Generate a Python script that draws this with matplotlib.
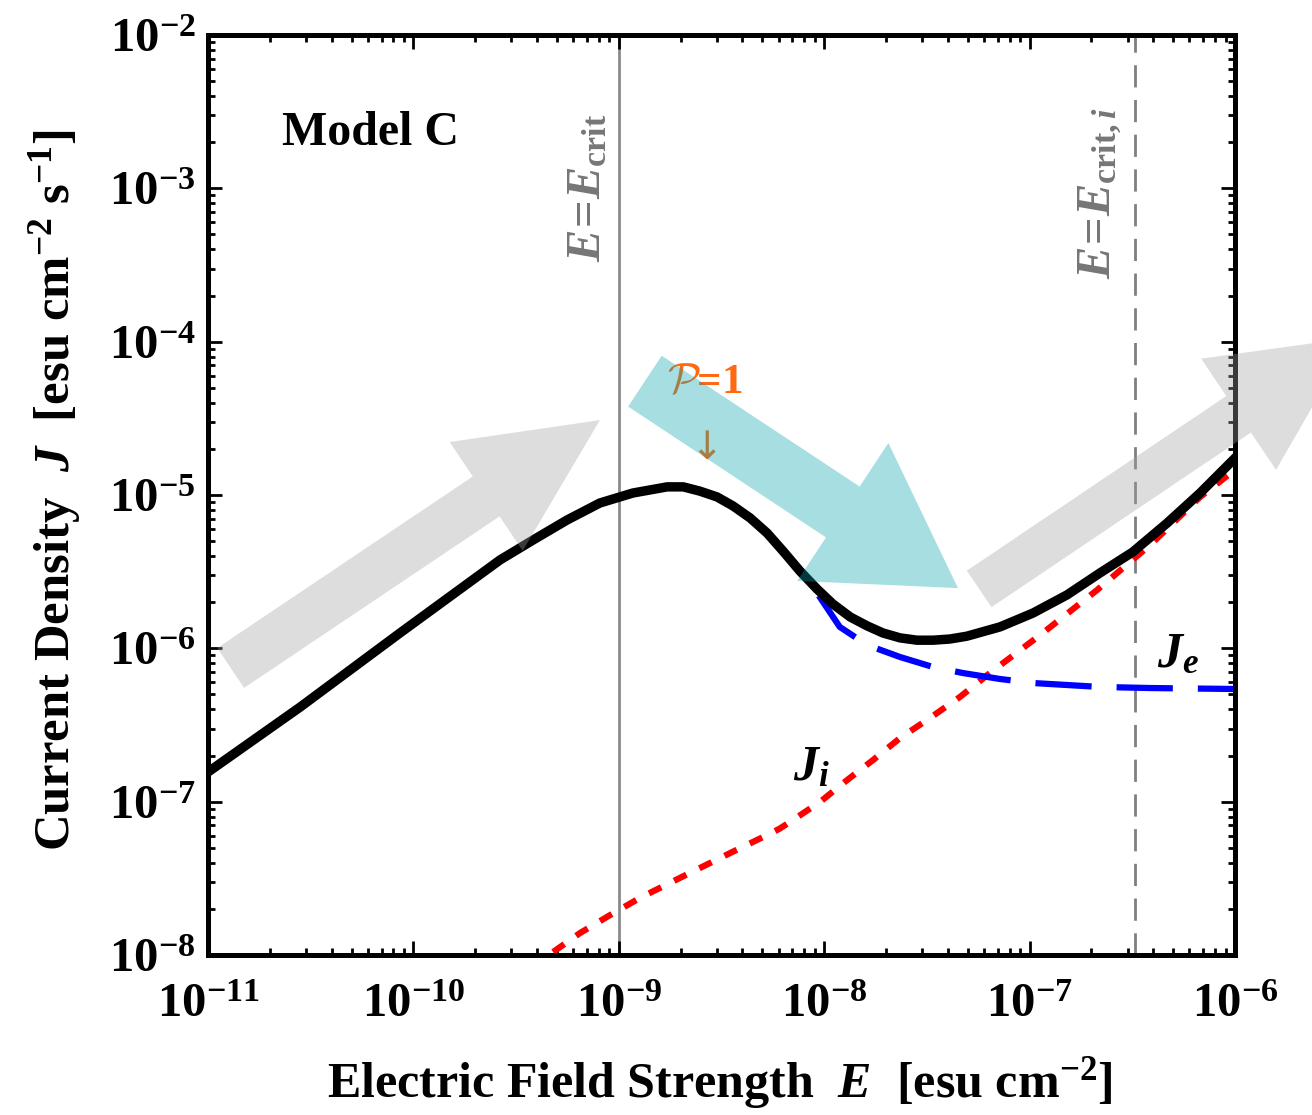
import matplotlib
matplotlib.use('Agg')
import matplotlib.pyplot as plt

plt.rcParams.update({
    'font.family': ['Liberation Serif', 'DejaVu Serif'],
    'font.weight': 'bold',
    'mathtext.fontset': 'custom',
    'mathtext.rm': 'Liberation Serif:bold',
    'mathtext.it': 'Liberation Serif:italic:bold',
    'mathtext.bf': 'Liberation Serif:bold',
})

# ---- data (E in esu cm^-2, J in esu cm^-2 s^-1) ----
E_tot = [1.00e-11, 2.81e-11, 8.61e-11, 2.64e-10, 3.82e-10, 5.60e-10, 8.09e-10,
         1.17e-9, 1.72e-9, 2.06e-9, 2.48e-9, 3.01e-9, 3.60e-9, 4.36e-9, 5.27e-9,
         6.30e-9, 7.62e-9, 9.22e-9, 1.10e-8, 1.34e-8, 1.62e-8, 1.93e-8, 2.34e-8,
         2.83e-8, 3.39e-8, 4.09e-8, 4.95e-8, 7.18e-8, 1.04e-7, 1.52e-7, 2.20e-7,
         3.18e-7, 4.67e-7, 6.76e-7, 1.00e-6]
J_tot = [1.56e-7, 4.14e-7, 1.26e-6, 3.77e-6, 5.08e-6, 6.87e-6, 8.87e-6,
         1.03e-5, 1.13e-5, 1.13e-5, 1.06e-5, 9.71e-6, 8.48e-6, 7.08e-6, 5.65e-6,
         4.31e-6, 3.19e-6, 2.44e-6, 1.95e-6, 1.60e-6, 1.40e-6, 1.26e-6, 1.17e-6,
         1.13e-6, 1.13e-6, 1.15e-6, 1.20e-6, 1.38e-6, 1.70e-6, 2.23e-6, 3.10e-6,
         4.25e-6, 6.56e-6, 1.03e-5, 1.74e-5]

E_e = [5.27e-9, 7.62e-9, 9.22e-9, 1.19e-8, 1.62e-8, 2.34e-8, 3.39e-8, 4.74e-8,
       7.18e-8, 1.04e-7, 2.20e-7, 3.86e-7, 1.00e-6]
J_e = [5.65e-6, 3.19e-6, 2.30e-6, 1.38e-6, 1.05e-6, 8.78e-7, 7.55e-7, 6.90e-7,
       6.31e-7, 5.94e-7, 5.60e-7, 5.51e-7, 5.43e-7]

E_i = [3.70e-10, 6.47e-10, 9.06e-10, 1.27e-9, 1.77e-9, 2.48e-9, 3.48e-9, 5.04e-9,
       6.05e-9, 7.05e-9, 8.20e-9, 9.54e-9, 1.29e-8, 1.73e-8, 2.34e-8, 3.27e-8,
       4.58e-8, 6.41e-8, 1.16e-7, 2.13e-7, 3.86e-7, 6.76e-7, 1.00e-6]
J_i = [8.2e-9, 1.39e-8, 1.82e-8, 2.36e-8, 2.95e-8, 3.69e-8, 4.62e-8, 5.88e-8,
       6.65e-8, 7.59e-8, 8.70e-8, 9.95e-8, 1.38e-7, 1.87e-7, 2.60e-7, 3.51e-7,
       4.82e-7, 6.9e-7, 1.26e-6, 2.40e-6, 4.72e-6, 9.7e-6, 1.46e-5]

E_CRIT = 1.0e-9
E_CRIT_I = 3.26e-7

# schematic arrows: (tail, tip) in data coords
ARROW_UP1 = ((1.29e-11, 7.45e-7), (8.09e-10, 3.08e-5))
ARROW_DOWN = ((1.34e-9, 5.53e-5), (4.48e-8, 2.47e-6))
ARROW_UP2 = ((5.68e-8, 2.44e-6), (3.72e-6, 1.06e-4))

FS = 34
GRAY_ARROW = (0.62, 0.63, 0.62, 0.36)
CYAN_ARROW = (0.0, 0.63, 0.68, 0.35)
ORANGE = '#ff6a10'

fig = plt.figure(figsize=(13.12, 11.15), dpi=100)
ax = fig.add_axes([208 / 1312, 1 - 955 / 1115, 1027 / 1312, 920 / 1115])
ax.set_xscale('log')
ax.set_yscale('log')
ax.set_xlim(1e-11, 1e-6)
ax.set_ylim(1e-8, 1e-2)

# reference lines
ax.axvline(E_CRIT, color='#8a8a8a', lw=2.0, zorder=1)
ax.axvline(E_CRIT_I, color='#7f7f7f', lw=2.0, dashes=(8, 4.5), zorder=1)

# curves
ax.plot(E_i, J_i, color='#ff0000', lw=4.5, dashes=(2.2, 2.3), zorder=2)
ax.plot(E_e, J_e, color='#0000ff', lw=4.5, dashes=(9, 4), zorder=2)
ax.plot(E_tot, J_tot, color='black', lw=6.8, solid_joinstyle='round', zorder=3)

# annotations
ax.text(7.1e-10, 1.0e-3, r'$E\!=\!E_{\mathrm{crit}}$', rotation=90, color='#767676',
        fontsize=FS + 1, ha='center', va='center')
ax.text(2.2e-7, 9.3e-4, r'$E\!=\!E_{\mathrm{crit},i}$', rotation=90, color='#767676',
        fontsize=FS + 1, ha='center', va='center')
ax.text(0.158, 0.893, 'Model C', transform=ax.transAxes, fontsize=FS + 0.5,
        ha='center', va='center')
ax.text(5.28e-7, 9.0e-7, r'$J_e$', fontsize=FS + 2, ha='center', va='center')
ax.text(8.7e-9, 1.66e-7, r'$J_i$', fontsize=FS + 2, ha='center', va='center')
ax.text(2.63e-9, 5.37e-5, r'$\mathcal{P}$=1', color=ORANGE, fontsize=FS - 3,
        ha='center', va='center', math_fontfamily='cm', zorder=4)
ax.text(2.66e-9, 2.02e-5, '\u2193', color=ORANGE, fontsize=FS - 6,
        ha='center', va='center', fontweight='normal',
        family=['DejaVu Sans'], zorder=4)

def big_arrow(tail, tip, color, tw, hw, hl):
    ax.annotate('', xy=tip, xytext=tail, annotation_clip=False, zorder=6,
                arrowprops=dict(arrowstyle=f'simple,head_length={hl},head_width={hw},tail_width={tw}',
                                mutation_scale=10, fc=color, ec='none',
                                shrinkA=0, shrinkB=0))

big_arrow(*ARROW_UP1, GRAY_ARROW, 3.46, 9.43, 9.86)
big_arrow(*ARROW_DOWN, CYAN_ARROW, 4.39, 11.9, 9.94)
big_arrow(*ARROW_UP2, GRAY_ARROW, 3.17, 9.65, 9.86)

# axes styling
for sp in ax.spines.values():
    sp.set_linewidth(3.6)
ax.tick_params(which='both', direction='in', top=True, right=True, width=2.0)
ax.tick_params(which='major', length=10, labelsize=FS + 1, pad=9)
ax.tick_params(which='minor', length=5)
ax.tick_params(axis='x', which='major', pad=20)

fig.text(55 / 1312, 1 - 490 / 1115, r'Current Density  $J$  [esu cm$^{-2}$ s$^{-1}$]',
         rotation=90, ha='center', va='center', fontsize=FS + 2.5)
fig.text(720 / 1312, 1 - 1083 / 1115, r'Electric Field Strength  $E$  [esu cm$^{-2}$]',
         ha='center', va='center', fontsize=FS + 2)

fig.savefig('out.png', dpi=100)
